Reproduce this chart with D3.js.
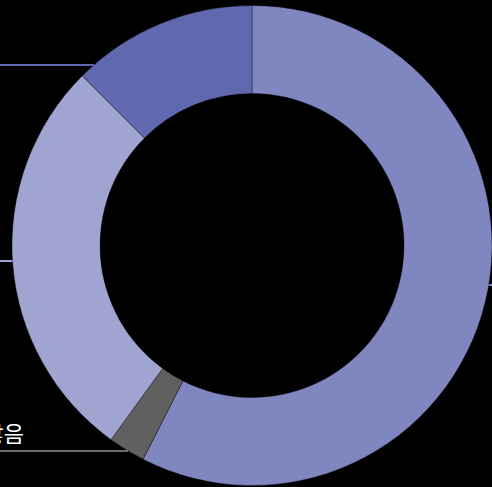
<!DOCTYPE html>
<html>
<head>
<meta charset="utf-8">
<script src="https://cdn.jsdelivr.net/npm/d3@7"></script>
<style>
  body { margin: 0; background: #000; overflow: hidden; }
  svg { display: block; }
</style>
</head>
<body>
<script>
// values (share of the whole, percent)
var categories = ["예", "응답하지 않음", "아니오", "모름"];
var shares = [57.5, 2.5, 27.5, 12.5];
var colors = ["#7f86c0", "#606060", "#a0a4d0", "#6068b0"];
var lineColors = ["#7f86c0", "#6e6e6e", "#a0a4d0", "#6068b0"];
// y where each leader line meets the ring, and which side the label sits
var leaderY = [285, 451, 261, 65];
var leaderSide = ["right", "left", "left", "left"];

var width = 492;
var height = 487;
var cx = 252, cy = 245.5;
var outer = 240, inner = 152;

var svg = d3.select("body")
            .append("svg")
            .attr("width", width)
            .attr("height", height);

var pie = d3.pie().sort(null).value(function(d){ return d; });
var arc = d3.arc().innerRadius(inner).outerRadius(outer);
var arcs = pie(shares);

var g = svg.append("g")
           .attr("transform", "translate(" + cx + "," + cy + ")");

g.selectAll("path")
 .data(arcs)
 .enter()
 .append("path")
 .attr("d", arc)
 .attr("fill", function(d, i){ return colors[i]; })
 .attr("stroke", "rgba(0,0,0,0.35)")
 .attr("stroke-width", 1);

// leader lines run horizontally from the label to the outer edge of the slice
var yScale = d3.scaleLinear().domain([0, height]).range([-cy, height - cy]);

arcs.forEach(function(d, i){
  var y = yScale(leaderY[i]);
  var dx = Math.sqrt(outer * outer - y * y);
  var x1 = leaderSide[i] == "left" ? -dx : dx;
  var x0 = leaderSide[i] == "left" ? -cx - 300 : width - cx + 300;
  g.append("line")
   .attr("x1", x0)
   .attr("x2", x1)
   .attr("y1", y)
   .attr("y2", y)
   .attr("stroke", lineColors[i])
   .attr("stroke-width", 2);

  var tx = leaderSide[i] == "left" ? -cx + 24 : width - cx + 200;
  g.append("text")
   .attr("x", leaderSide[i] == "left" ? -cx - 200 : tx)
   .attr("y", y - 9)
   .attr("text-anchor", "start")
   .attr("font-family", "'Noto Sans CJK KR', sans-serif")
   .attr("font-size", "22px")
   .attr("fill", "#fff")
   .text(categories[i])
   .each(function(){
     if (leaderSide[i] == "left" && categories[i] == "응답하지 않음") {
       var w = this.getComputedTextLength();
       d3.select(this).attr("x", tx - w);
     }
   });
});
</script>
</body>
</html>
